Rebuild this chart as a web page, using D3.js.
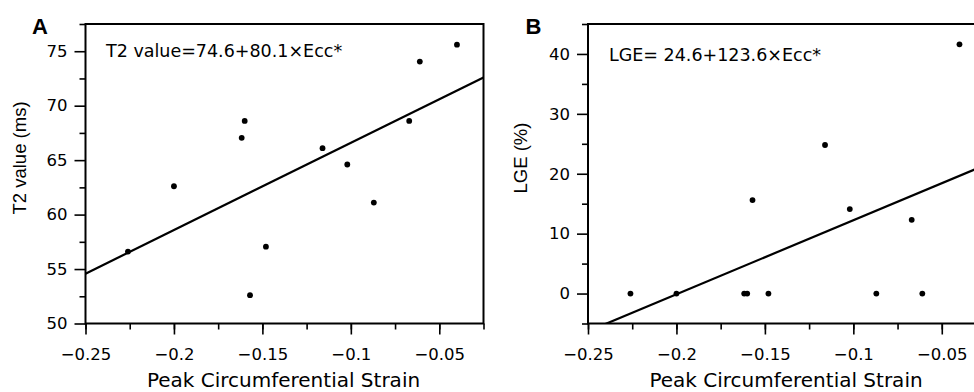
<!DOCTYPE html>
<html>
<head>
<meta charset="utf-8">
<script src="https://cdn.jsdelivr.net/npm/d3@7"></script>
<style>
  body { margin: 0; background: #fff; }
  svg { display: block; }
</style>
</head>
<body>
<svg width="974" height="392"></svg>
<script>
// shared x values (peak circumferential strain) for both panels
var strain = [-0.226, -0.200, -0.1617, -0.160, -0.157, -0.148, -0.116, -0.102, -0.087, -0.067, -0.061, -0.040];
var t2Value = [56.6, 62.6, 67.05, 68.6, 52.6, 57.05, 66.1, 64.6, 61.1, 68.6, 74.05, 75.6];
var lgeValue = [0, 0, 0, 0, 15.6, 0, 24.8, 14.1, 0, 12.3, 0, 41.6];

var xTicks = [-0.25, -0.2, -0.15, -0.1, -0.05];
var xMinor = [-0.25, -0.225, -0.2, -0.175, -0.15, -0.125, -0.1, -0.075, -0.05, -0.025];
var t2Ticks = [50, 55, 60, 65, 70, 75];
var t2Minor = [52.5, 57.5, 62.5, 67.5, 72.5, 77.5];
var lgeTicks = [0, 10, 20, 30, 40];
var lgeMinor = [-5, 5, 15, 25, 35, 45];

var fitA = [74.6, 80.1];   // intercept, slope
var fitB = [24.6, 123.6];

var svg = d3.select("svg");

function fmtX(d) { return d3.format("")(d).replace("-", "\u2212"); }

function panel(opt) {
    var x = d3.scaleLinear().domain([-0.25, -0.025]).range([opt.left, opt.left + 398]);
    var y = d3.scaleLinear().domain(opt.yDomain).range([323.5, 24]);
    var g = svg.append("g");

    g.append("clipPath").attr("id", opt.id + "clip")
        .append("rect")
        .attr("x", x.range()[0]).attr("y", 24)
        .attr("width", 398).attr("height", 299.5);

    // minor ticks
    g.append("g").attr("transform", "translate(0,323.5)")
        .call(d3.axisBottom(x).tickValues(xMinor).tickSize(6).tickFormat(""))
        .call(function (s) { s.select(".domain").remove(); });
    g.append("g").attr("transform", "translate(" + opt.left + ",0)")
        .call(d3.axisLeft(y).tickValues(opt.yMinor).tickSize(6).tickFormat(""))
        .call(function (s) { s.select(".domain").remove(); });

    // major ticks
    var xa = g.append("g").attr("transform", "translate(0,323.5)")
        .call(d3.axisBottom(x).tickValues(xTicks).tickSize(11).tickPadding(14).tickFormat(fmtX));
    xa.select(".domain").remove();
    var ya = g.append("g").attr("transform", "translate(" + opt.left + ",0)")
        .call(d3.axisLeft(y).tickValues(opt.yTicks).tickSize(11).tickPadding(7));
    ya.select(".domain").remove();

    g.selectAll(".tick line").attr("stroke", "#000").attr("stroke-width", 1.6);
    g.selectAll(".tick text").attr("fill", "#000")
        .style("font-family", "DejaVu Sans").style("font-size", "16.5px");

    // frame
    g.append("rect")
        .attr("x", x.range()[0]).attr("y", 24)
        .attr("width", 398).attr("height", 299.5)
        .attr("fill", "none").attr("stroke", "#000").attr("stroke-width", 2);

    // regression line
    var line = d3.line().x(function (d) { return x(d); })
        .y(function (d) { return y(opt.fit[0] + opt.fit[1] * d); });
    g.append("path")
        .attr("clip-path", "url(#" + opt.id + "clip)")
        .attr("d", line([-0.25, -0.025]))
        .attr("fill", "none").attr("stroke", "#000").attr("stroke-width", 2.2);

    // points
    g.selectAll("circle.pt")
        .data(strain).enter()
        .append("circle")
        .attr("class", "pt")
        .attr("cx", function (d) { return x(d); })
        .attr("cy", function (d, i) { return y(opt.values[i]); })
        .attr("r", 2.9)
        .attr("fill", "#000");

    // equation
    g.append("text")
        .attr("x", opt.left + opt.eqDx).attr("y", opt.eqY)
        .style("font-family", "DejaVu Sans").style("font-size", "17.5px")
        .text(opt.equation);

    // panel letter
    g.append("text")
        .attr("x", opt.left - opt.letterDx).attr("y", 34)
        .style("font-family", "Liberation Sans").style("font-weight", "bold").style("font-size", "22px")
        .text(opt.letter);

    // axis titles
    g.append("text")
        .attr("transform", "translate(" + (opt.left - opt.ylabDx) + ",158) rotate(-90)")
        .attr("text-anchor", "middle")
        .style("font-family", "Liberation Sans").style("font-size", "18.5px")
        .text(opt.ylabel);
    g.append("text")
        .attr("x", opt.left + 198).attr("y", 387)
        .attr("text-anchor", "middle")
        .style("font-family", "DejaVu Sans").style("font-size", "20px")
        .text("Peak Circumferential Strain");
}

panel({
    id: "a", left: 85.5, yDomain: [50, 77.5], yTicks: t2Ticks, yMinor: t2Minor,
    values: t2Value, fit: fitA, equation: "T2 value=74.6+80.1\u00d7Ecc*",
    eqDx: 20.5, eqY: 57, letter: "A", letterDx: 53.5, ylabel: "T2 value (ms)", ylabDx: 59.5
});
panel({
    id: "b", left: 588, yDomain: [-5, 45], yTicks: lgeTicks, yMinor: lgeMinor,
    values: lgeValue, fit: fitB, equation: "LGE= 24.6+123.6\u00d7Ecc*",
    eqDx: 21, eqY: 60.5, letter: "B", letterDx: 62.5, ylabel: "LGE (%)", ylabDx: 61.5
});
</script>
</body>
</html>
